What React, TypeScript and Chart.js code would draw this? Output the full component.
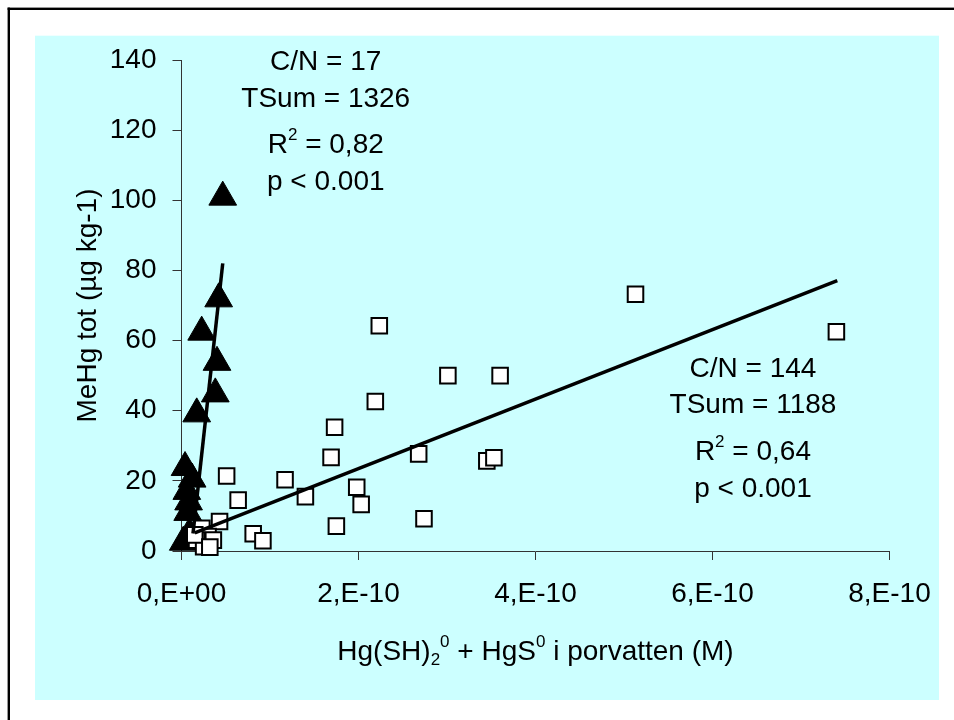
import React, { useEffect, useRef } from "react";
import { Chart, registerables } from "chart.js";

Chart.register(...registerables);

// x values are in units of 1e-10 M
const xTickLabels = ["0,E+00", "2,E-10", "4,E-10", "6,E-10", "8,E-10"];
const yTicks = [0, 20, 40, 60, 80, 100, 120, 140];

// C/N = 144 (open squares)
const cn144X = [5.13, 7.4, 2.235, 3.01, 3.6, 2.19, 1.73, 1.69, 2.68, 3.45, 3.53, 0.51, 1.17, 0.64, 1.4, 1.98, 2.03, 1.75, 2.74, 0.81, 0.92, 0.43, 0.23, 0.3, 0.17, 0.25, 0.15, 0.36, 0.32];
const cn144Y = [73.2, 62.5, 64.2, 50.0, 50.0, 42.6, 35.3, 26.7, 27.7, 25.7, 26.6, 21.4, 20.3, 14.5, 15.5, 18.2, 13.3, 7.1, 9.2, 4.9, 2.9, 8.4, 6.5, 4.1, 3.1, 1.2, 4.6, 3.1, 1.1];

// C/N = 17 (filled triangles)
const cn17X = [0.466, 0.42, 0.228, 0.401, 0.382, 0.172, 0.04, 0.12, 0.06, 0.08, 0.07, 0.09, 0.02];
const cn17Y = [100.9, 71.9, 62.4, 53.8, 44.8, 39.1, 23.8, 20.5, 17, 14, 11, 5, 2.5];

// regression lines
const trend144X = [0.15, 7.41];
const trend144Y = [5.2, 77.1];
const trend17X = [0.13, 0.466];
const trend17Y = [5, 82];

const annot17 = ["C/N = 17", "TSum = 1326", "R^{2} = 0,82", "p < 0.001"];
const annot17At = { x: 1.63, y: 140 };
const annot144 = ["C/N = 144", "TSum = 1188", "R^{2} = 0,64", "p < 0.001"];
const annot144At = { x: 6.457, y: 52.55 };

const xTitle = "Hg(SH)_{2}^{0} + HgS^{0} i porvatten (M)";
const yTitle = "MeHg tot (µg kg-1)";

const FAMILY = '"Liberation Sans", Arial, sans-serif';
const MAIN_FONT = `28px ${FAMILY}`;
const SMALL_FONT = `17px ${FAMILY}`;
const LINE_OFFSETS = [0, 36.7, 83, 120];

const W = 954;
const H = 720;

type Part = { t: string; k: "n" | "sup" | "sub" };

function parseRich(s: string): Part[] {
  const parts: Part[] = [];
  const re = /(\^\{[^}]*\}|_\{[^}]*\})/g;
  let last = 0;
  let m: RegExpExecArray | null;
  while ((m = re.exec(s))) {
    if (m.index > last) parts.push({ t: s.slice(last, m.index), k: "n" });
    parts.push({ t: m[0].slice(2, -1), k: m[0][0] === "^" ? "sup" : "sub" });
    last = m.index + m[0].length;
  }
  if (last < s.length) parts.push({ t: s.slice(last), k: "n" });
  return parts;
}

function drawRich(ctx: CanvasRenderingContext2D, s: string, cx: number, cyMid: number) {
  const parts = parseRich(s);
  const widths = parts.map((p) => {
    ctx.font = p.k === "n" ? MAIN_FONT : SMALL_FONT;
    return ctx.measureText(p.t).width;
  });
  const total = widths.reduce((a, b) => a + b, 0);
  let x = cx - total / 2;
  const base = cyMid + 10;
  ctx.textAlign = "left";
  ctx.textBaseline = "alphabetic";
  ctx.fillStyle = "#000";
  parts.forEach((p, i) => {
    ctx.font = p.k === "n" ? MAIN_FONT : SMALL_FONT;
    const y = p.k === "sup" ? base - 13 : p.k === "sub" ? base + 5 : base;
    ctx.fillText(p.t, x, y);
    x += widths[i];
  });
}

const backgroundPlugin = {
  id: "bgPanel",
  beforeDraw(chart: any) {
    const { ctx, width, height } = chart;
    ctx.save();
    ctx.fillStyle = "#ffffff";
    ctx.fillRect(0, 0, width, height);
    ctx.fillStyle = "#CCFFFF";
    ctx.fillRect(35, 35.7, 904, 664.3);
    ctx.fillStyle = "#000";
    ctx.fillRect(7.6, 7.6, 2.4, height);
    ctx.fillRect(7.6, 7.6, width, 2.4);
    ctx.restore();
  },
};

const textPlugin = {
  id: "richTexts",
  afterDraw(chart: any) {
    const { ctx, chartArea } = chart;
    const xs = chart.scales.x;
    const ys = chart.scales.y;
    ctx.save();
    const drawBlock = (lines: string[], at: { x: number; y: number }) => {
      const cx = xs.getPixelForValue(at.x);
      const cy = ys.getPixelForValue(at.y);
      lines.forEach((l, i) => drawRich(ctx, l, cx, cy + LINE_OFFSETS[i]));
    };
    drawBlock(annot17, annot17At);
    drawBlock(annot144, annot144At);
    drawRich(ctx, xTitle, (chartArea.left + chartArea.right) / 2, 650);
    ctx.restore();
  },
};

export default function App() {
  const ref = useRef<HTMLCanvasElement | null>(null);

  useEffect(() => {
    if (!ref.current) return;
    Chart.defaults.font.family = FAMILY;
    const toPts = (xs: number[], ys: number[]) => xs.map((x, i) => ({ x, y: ys[i] }));
    const chart = new Chart(ref.current, {
      type: "scatter",
      data: {
        datasets: [
          {
            type: "line",
            label: "trend C/N 144",
            data: toPts(trend144X, trend144Y),
            borderColor: "#000",
            borderWidth: 3.5,
            pointRadius: 0,
            fill: false,
            order: 0,
            clip: false,
          } as any,
          {
            type: "line",
            label: "trend C/N 17",
            data: toPts(trend17X, trend17Y),
            borderColor: "#000",
            borderWidth: 3.5,
            pointRadius: 0,
            fill: false,
            order: 0,
            clip: false,
          } as any,
          {
            label: "C/N = 144",
            data: toPts(cn144X, cn144Y),
            pointStyle: "rect",
            pointRadius: 11,
            backgroundColor: "#ffffff",
            borderColor: "#000",
            borderWidth: 2,
            order: 1,
            clip: false,
          } as any,
          {
            label: "C/N = 17",
            data: toPts(cn17X, cn17Y),
            pointStyle: "triangle",
            pointRadius: 16,
            backgroundColor: "#000",
            borderColor: "#000",
            borderWidth: 1,
            order: 2,
            clip: false,
          } as any,
        ],
      },
      options: {
        animation: false,
        responsive: false,
        devicePixelRatio: 1,
        events: [],
        layout: { padding: { left: 0, top: 60, right: 64.5, bottom: 0 } },
        plugins: {
          legend: { display: false },
          tooltip: { enabled: false },
        },
        scales: {
          x: {
            type: "linear",
            min: 0,
            max: 8,
            afterBuildTicks: (scale: any) => {
              scale.ticks = xTickLabels.map((_, i) => ({ value: i * 2 }));
            },
            ticks: {
              font: { size: 28 },
              color: "#000",
              padding: 17,
              maxRotation: 0,
              autoSkip: false,
              callback: (_v: any, i: number) => xTickLabels[i],
            },
            grid: {
              drawOnChartArea: false,
              drawTicks: true,
              tickLength: 9,
              color: "#333",
              lineWidth: 1,
            },
            border: { color: "#333", width: 1 },
            afterFit: (scale: any) => {
              scale.height = 169;
            },
          },
          y: {
            type: "linear",
            min: 0,
            max: 140,
            afterBuildTicks: (scale: any) => {
              scale.ticks = yTicks.map((v) => ({ value: v }));
            },
            ticks: {
              font: { size: 28 },
              color: "#000",
              padding: 16,
              autoSkip: false,
              callback: (v: any) => String(v),
            },
            grid: {
              drawOnChartArea: false,
              drawTicks: true,
              tickLength: 9,
              color: "#333",
              lineWidth: 1,
            },
            border: { color: "#333", width: 1 },
            title: {
              display: true,
              text: yTitle,
              color: "#000",
              font: { size: 28, lineHeight: 1.2 },
              padding: { top: 71.2, bottom: 0 },
            },
            afterFit: (scale: any) => {
              scale.width = 181.5;
            },
          },
        },
      } as any,
      plugins: [backgroundPlugin, textPlugin],
    });
    return () => chart.destroy();
  }, []);

  return (
    <canvas
      ref={ref}
      width={W}
      height={H}
      style={{ display: "block", position: "fixed", left: 0, top: 0 }}
    />
  );
}
